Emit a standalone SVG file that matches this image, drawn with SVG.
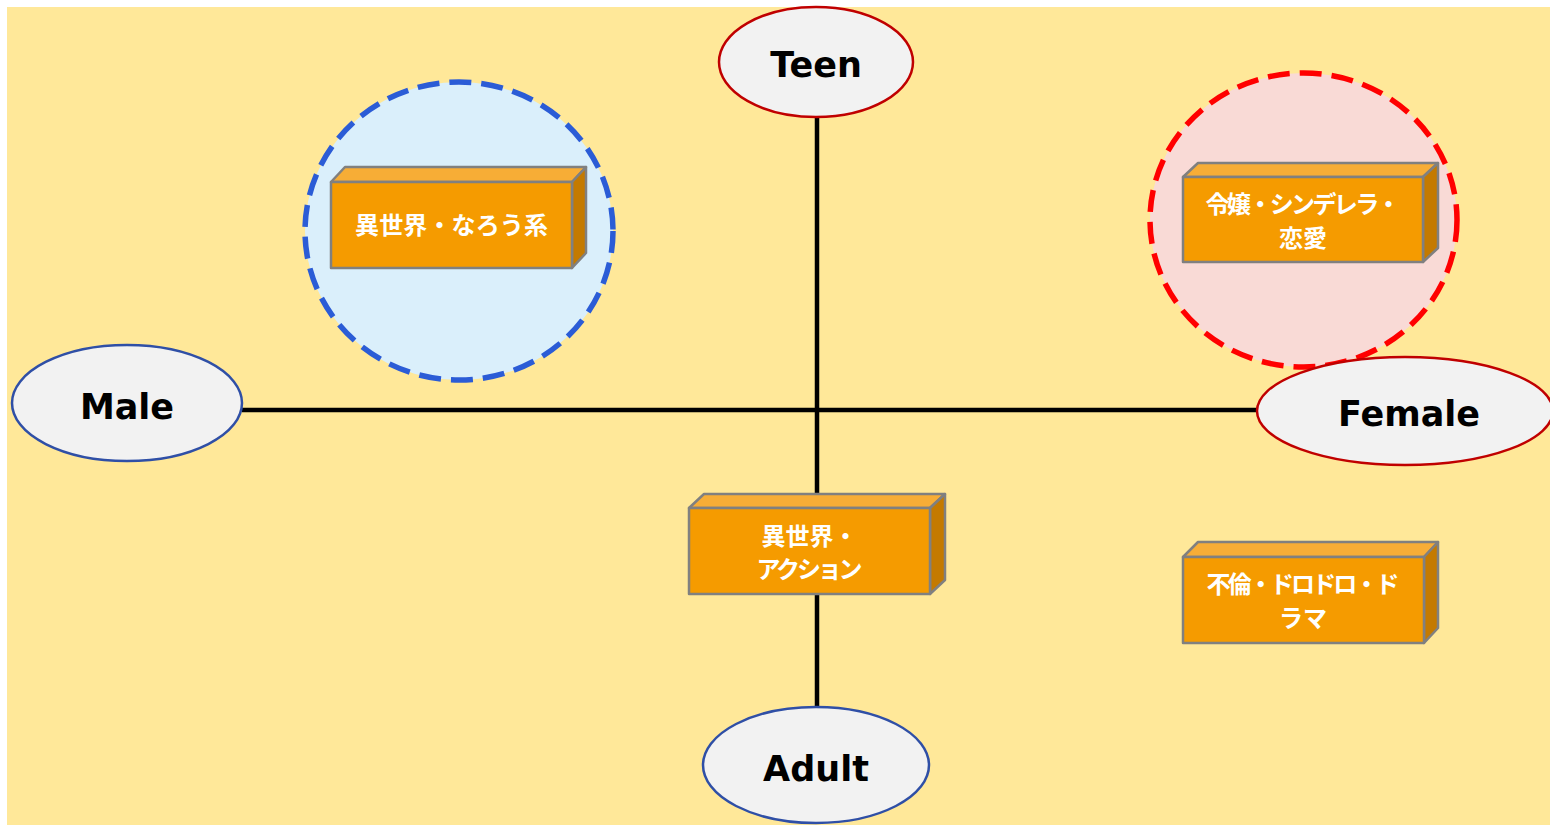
<svg xmlns="http://www.w3.org/2000/svg" width="1550" height="825" viewBox="0 0 1550 825">
<style>
.lbl{font-family:"DejaVu Sans","Liberation Sans",sans-serif;font-weight:bold;font-size:35px;fill:#000;text-anchor:middle}
.oval{fill:#F2F2F2;stroke-width:2.5}
.red{stroke:#C00000}
.blue{stroke:#2F4FA6}
.front{fill:#F59B00;stroke:#808080;stroke-width:2.5;stroke-linejoin:round}
.top{fill:#F7AD36;stroke:#808080;stroke-width:2.5;stroke-linejoin:round}
.side{fill:#C47A00;stroke:#808080;stroke-width:2.5;stroke-linejoin:round}
.bt{font-family:"Noto Sans CJK JP","Noto Sans",sans-serif;font-weight:bold;font-size:24px;fill:#FFFFFF;text-anchor:middle}
.axis{stroke:#000;stroke-width:4.5;fill:none}
.zone{stroke-width:5.5;stroke-dasharray:22 10}
</style>
<rect x="7" y="7" width="1543" height="818" fill="#FFE899"/>
<g id="male-zone">
<ellipse class="zone" cx="459" cy="231" rx="154" ry="149" fill="#DAEFFB" stroke="#2B5CD6"/>
</g>
<g id="female-zone">
<ellipse class="zone" cx="1303.5" cy="220" rx="153.5" ry="147" fill="#F9DAD6" stroke="#FF0000"/>
</g>
<g id="connectors">
<line class="axis" x1="242" y1="410" x2="1258" y2="410"/>
<line class="axis" x1="817" y1="116" x2="817" y2="707"/>
</g>
<g id="teen">
<ellipse class="oval red" cx="816" cy="62" rx="97" ry="55"/>
<text class="lbl" x="816" y="77">Teen</text>
</g>
<g id="adult">
<ellipse class="oval blue" cx="816" cy="765" rx="113" ry="58"/>
<text class="lbl" x="816" y="781">Adult</text>
</g>
<g id="male">
<ellipse class="oval blue" cx="127" cy="403" rx="115" ry="58"/>
<text class="lbl" x="127" y="419">Male</text>
</g>
<g id="female">
<ellipse class="oval red" cx="1405" cy="411" rx="148" ry="54"/>
<text class="lbl" x="1409" y="426">Female</text>
</g>
<g id="box-narou">
<polygon class="top" points="331,182 345,167 586,167 572,182"/>
<polygon class="side" points="572,182 586,167 586,253 572,268"/>
<rect class="front" x="331" y="182" width="241" height="86"/>
<text class="bt" x="451.5" y="234" textLength="193">異世界・なろう系</text>
</g>
<g id="box-reijou">
<polygon class="top" points="1183,177 1198,163 1438,163 1423,177"/>
<polygon class="side" points="1423,177 1438,163 1438,248 1423,262"/>
<rect class="front" x="1183" y="177" width="240" height="85"/>
<text class="bt" x="1303" y="213" textLength="195">令嬢・シンデレラ・</text>
<text class="bt" x="1303" y="247">恋愛</text>
</g>
<g id="box-action">
<polygon class="top" points="689,508 704,494 945,494 930,508"/>
<polygon class="side" points="930,508 945,494 945,580 930,594"/>
<rect class="front" x="689" y="508" width="241" height="86"/>
<text class="bt" x="809.5" y="545" textLength="96">異世界・</text>
<text class="bt" x="809.5" y="578" textLength="106">アクション</text>
</g>
<g id="box-furin">
<polygon class="top" points="1183,557 1198,542 1438,542 1424,557"/>
<polygon class="side" points="1424,557 1438,542 1438,628 1424,643"/>
<rect class="front" x="1183" y="557" width="241" height="86"/>
<text class="bt" x="1303" y="593" textLength="193">不倫・ドロドロ・ド</text>
<text class="bt" x="1303" y="627">ラマ</text>
</g>
</svg>
